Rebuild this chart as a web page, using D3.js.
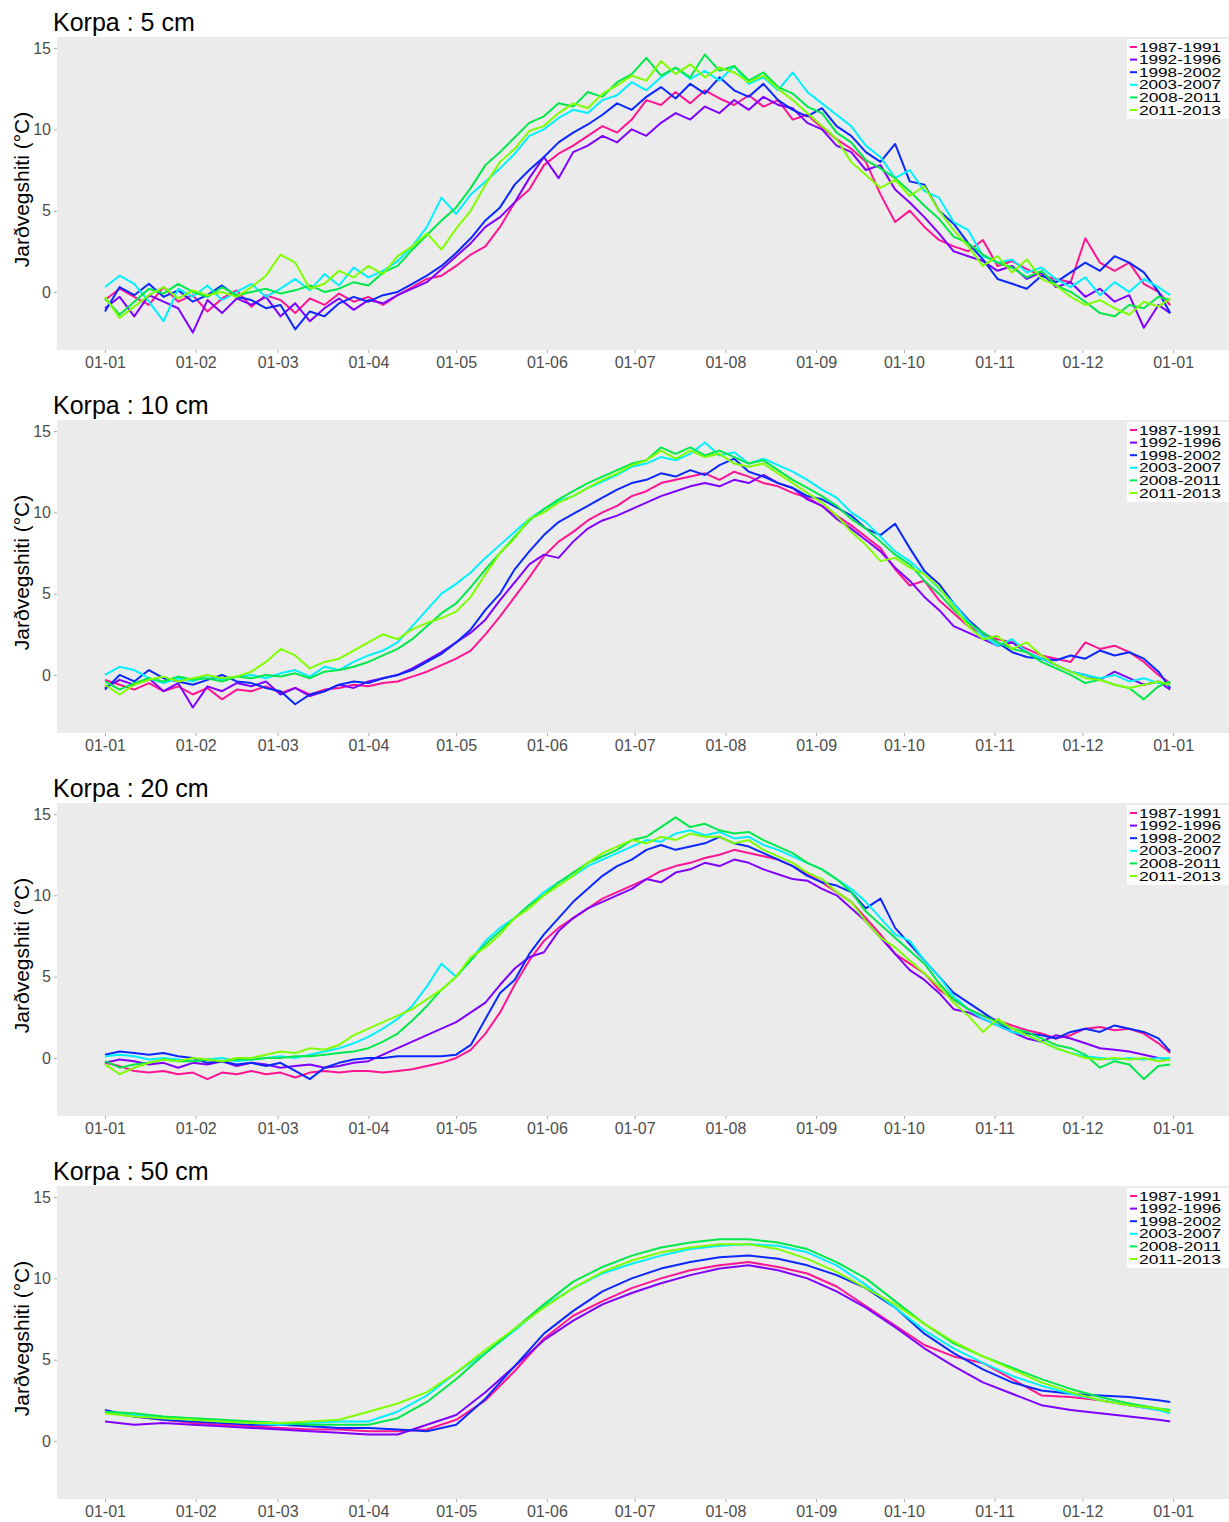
<!DOCTYPE html>
<html>
<head>
<meta charset="utf-8">
<script src="https://cdn.jsdelivr.net/npm/d3@7"></script>
<style>
  body { margin: 0; background: #fff; }
  text { font-family: "Liberation Sans", Arial, sans-serif; }
</style>
</head>
<body>
<div id="chart"></div>
<script>
(function() {
    const width = 1229,
          height = 1522;

    // series names and colours
    const periods = ["1987-1991", "1992-1996", "1998-2002", "2003-2007", "2008-2011", "2011-2013"];
    const colors = ["#ff1493", "#8000ff", "#0a28ff", "#00f0ff", "#00e94a", "#7fff00"];

    // x ticks: day of year and label (dd-mm)
    const tickDays = [0, 31, 59, 90, 120, 151, 181, 212, 243, 273, 304, 334, 365];
    const tickLabels = ["01-01", "01-02", "01-03", "01-04", "01-05", "01-06", "01-07",
                        "01-08", "01-09", "01-10", "01-11", "01-12", "01-01"];
    const yTicks = [0, 5, 10, 15];

    // sampling days
    const days5 = d3.range(0, 361, 5).concat([364]);
    const days10 = d3.range(0, 361, 10).concat([364]);

    // ---- 5 cm ----
    const cm5_1987 = [-0.5, 0.2, -0.3, -0.8, 0.3, -0.6, -0.2, -1.2, -0.4, 0.1,
        -0.9, -0.2, -0.5, -1.3, -0.4, -0.8, -0.1, -0.6, -0.3, -0.8,
        -0.2, 0.3, 0.8, 1.0, 1.6, 2.3, 2.8, 4.0, 5.5, 6.3,
        7.8, 8.5, 9.0, 9.6, 10.2, 9.8, 10.6, 11.8, 11.5, 12.3,
        11.6, 12.4, 11.9, 11.5, 12.1, 11.4, 11.8, 10.6, 10.9, 10.1,
        9.4, 8.8, 8.0, 6.0, 4.3, 5.0, 4.0, 3.2, 2.8, 2.5,
        3.2, 1.6, 1.9, 1.4, 1.0, 0.8, 0.6, 3.3, 1.8, 1.3,
        1.8, 0.5, 0.0, -0.8];
    const cm5_1992 = [-1.0, -0.3, -1.5, -0.2, -0.6, -1.0, -2.5, -0.5, -1.3, -0.4,
        -0.8, -0.3, -1.5, -0.7, -1.8, -1.0, -0.4, -1.1, -0.5, -0.7,
        -0.2, 0.2, 0.6, 1.4, 2.2, 3.0, 4.0, 4.6, 5.5, 7.0,
        8.3, 7.0, 8.6, 9.0, 9.6, 9.2, 10.0, 9.6, 10.4, 11.0,
        10.6, 11.4, 11.0, 11.8, 11.2, 12.0, 11.5, 11.3, 10.4, 10.0,
        9.0, 8.6, 7.5, 7.8, 6.3, 5.5, 4.6, 3.6, 2.5, 2.2,
        1.9, 1.3, 1.6, 0.8, 1.2, 0.3, 0.6, -0.3, 0.2, -0.6,
        -0.2, -2.2, -0.8, -1.3];
    const cm5_1998 = [-1.2, 0.3, -0.2, 0.5, -0.3, 0.1, -0.6, -0.2, 0.4, -0.3,
        -0.5, -1.0, -0.8, -2.3, -1.2, -1.5, -0.7, -0.3, -0.6, -0.2,
        0.0, 0.5, 1.0, 1.6, 2.4, 3.3, 4.4, 5.2, 6.6, 7.5,
        8.3, 9.2, 9.8, 10.3, 10.9, 11.6, 11.2, 12.0, 12.6, 11.9,
        12.8, 12.2, 13.2, 12.4, 12.0, 12.8, 11.8, 11.2, 10.8, 11.3,
        10.2, 9.6, 8.6, 8.0, 9.1, 6.8, 6.6, 5.0, 4.2, 3.0,
        2.0, 0.8, 0.5, 0.2, 1.0, 0.6, 1.2, 1.8, 1.3, 2.2,
        1.8, 1.2, 0.0, -1.3];
    const cm5_2003 = [0.3, 1.0, 0.5, -0.6, -1.8, 0.2, -0.3, 0.4, -0.5, 0.0,
        0.5, -0.3, 0.2, 0.8, 0.1, 1.1, 0.4, 1.5, 0.9, 1.3,
        1.9, 2.8, 4.0, 5.8, 4.8, 6.0, 6.8, 7.6, 8.5, 9.6,
        10.0, 10.7, 11.2, 11.0, 11.8, 12.1, 12.9, 12.4, 13.2, 13.8,
        13.1, 13.6, 13.0, 13.9, 12.8, 13.2, 12.4, 13.5, 12.3, 11.6,
        10.9, 10.2, 9.0, 8.3, 7.0, 7.5, 6.2, 5.8, 4.3, 3.8,
        2.2, 1.8, 2.0, 1.2, 1.5, 0.8, 0.3, 0.9, -0.2, 0.6,
        0.0, 0.8, 0.3, -0.2];
    const cm5_2008 = [-0.4, -1.4, -0.6, 0.2, -0.1, 0.5, 0.0, -0.3, 0.3, -0.2,
        0.0, 0.2, -0.1, 0.1, 0.4, 0.0, 0.2, 0.6, 0.4, 1.2,
        1.6, 2.6, 3.5, 4.4, 5.2, 6.4, 7.8, 8.6, 9.5, 10.4,
        10.8, 11.6, 11.4, 12.3, 12.0, 12.9, 13.4, 14.4, 13.3, 13.8,
        13.2, 14.6, 13.6, 13.9, 13.0, 13.5, 12.6, 12.2, 11.4, 11.0,
        9.8, 9.2, 8.1, 7.6, 7.0, 6.2, 5.3, 4.5, 3.4, 3.0,
        2.3, 1.8, 1.5, 0.9, 1.3, 0.4, 0.0, -0.6, -1.3, -1.5,
        -0.8, -1.0, -0.3, -0.5];
    const cm5_2011 = [-0.3, -1.6, -0.9, -0.2, 0.3, -0.4, 0.1, -0.2, 0.0, -0.3,
        0.3, 1.0, 2.3, 1.8, 0.2, 0.5, 1.3, 0.9, 1.6, 1.1,
        2.2, 2.8, 3.6, 2.6, 3.9, 5.0, 6.6, 8.0, 8.8, 9.9,
        10.2, 11.0, 11.6, 11.3, 12.2, 12.7, 13.3, 13.0, 14.2, 13.4,
        14.0, 13.2, 13.8, 13.5, 12.9, 13.3, 12.5, 11.8, 11.0, 10.2,
        9.4, 8.0, 7.2, 6.4, 6.9, 5.9, 6.5, 5.0, 3.8, 2.8,
        1.6, 2.2, 1.2, 2.0, 0.8, 0.4, -0.3, -0.8, -0.5, -1.0,
        -1.4, -0.6, -0.9, -0.4];

    // ---- 10 cm ----
    const cm10_1987 = [-0.3, -0.6, -0.9, -0.5, -1.0, -0.7, -1.2, -0.8, -1.5, -0.9,
        -1.0, -0.7, -1.1, -0.8, -1.2, -0.9, -0.8, -0.6, -0.7, -0.5,
        -0.4, -0.1, 0.2, 0.6, 1.0, 1.5, 2.5, 3.6, 4.8, 6.0,
        7.3, 8.2, 8.8, 9.5, 10.0, 10.4, 11.0, 11.3, 11.8, 12.0,
        12.2, 12.4, 12.0, 12.5, 12.2, 11.8, 11.6, 11.2, 10.9, 10.4,
        9.8, 9.2, 8.5, 7.8, 6.5, 5.5, 5.8, 4.6, 3.8, 3.0,
        2.5, 2.2, 2.0, 1.6, 1.2, 1.0, 0.8, 2.0, 1.6, 1.8,
        1.4, 0.8, 0.0, -0.5];
    const cm10_1992 = [-0.8, -0.3, -0.6, -0.2, -1.0, -0.5, -2.0, -0.7, -1.0, -0.5,
        -0.7, -0.4, -1.2, -0.8, -1.3, -1.0, -0.6, -0.8, -0.4, -0.2,
        0.0, 0.4, 0.9, 1.4, 2.0, 2.6, 3.4, 4.6, 5.7, 6.8,
        7.4, 7.2, 8.2, 9.0, 9.5, 9.8, 10.2, 10.6, 11.0, 11.3,
        11.6, 11.8, 11.6, 12.0, 11.8, 12.3, 11.8, 11.5, 10.8, 10.4,
        9.6, 9.0, 8.3, 7.6, 6.6, 5.8, 4.8, 4.0, 3.0, 2.6,
        2.2, 1.8, 2.0, 1.4, 1.0, 0.6, 0.2, 0.0, -0.3, 0.2,
        -0.2, -0.6, -0.4, -0.9];
    const cm10_1998 = [-0.9, 0.0, -0.4, 0.3, -0.2, -0.4, -0.6, -0.3, 0.0, -0.4,
        -0.5, -0.8, -1.0, -1.8, -1.2, -1.0, -0.6, -0.4, -0.5, -0.2,
        0.0, 0.3, 0.8, 1.3, 2.0, 2.8, 4.0, 5.0, 6.5, 7.6,
        8.6, 9.4, 9.9, 10.4, 10.9, 11.4, 11.8, 12.0, 12.4, 12.2,
        12.6, 12.3, 12.9, 13.3, 12.5, 12.2, 11.8, 11.5, 11.0, 10.8,
        10.3, 9.8, 9.0, 8.6, 9.3, 7.8, 6.4, 5.6, 4.4, 3.4,
        2.6, 2.0, 1.4, 1.1, 1.0, 0.9, 1.2, 1.0, 1.5, 1.2,
        1.4, 1.0, 0.2, -0.8];
    const cm10_2003 = [0.0, 0.5, 0.3, -0.2, -0.5, -0.2, -0.4, 0.0, -0.3, -0.1,
        0.0, -0.2, 0.1, 0.3, -0.1, 0.5, 0.3, 0.8, 1.2, 1.5,
        2.0, 3.0, 4.0, 5.0, 5.6, 6.3, 7.2, 8.0, 8.8, 9.6,
        10.2, 10.7, 11.0, 11.5, 11.9, 12.3, 12.8, 13.0, 13.4, 13.2,
        13.6, 14.3, 13.5, 13.7, 13.0, 13.3, 12.9, 12.5, 12.0, 11.4,
        10.9, 10.0, 9.4, 8.5, 7.6, 7.0, 6.2, 5.3, 4.4, 3.3,
        2.4, 1.8, 2.2, 1.4, 1.0, 0.6, 0.2, 0.0, -0.2, 0.0,
        -0.4, -0.2, -0.5, -0.6];
    const cm10_2008 = [-0.4, -0.9, -0.5, -0.2, -0.4, -0.1, -0.3, -0.2, -0.4, -0.1,
        -0.2, 0.0, -0.1, 0.1, -0.2, 0.2, 0.3, 0.5, 0.8, 1.2,
        1.6, 2.2, 3.0, 3.8, 4.4, 5.4, 6.5, 7.5, 8.5, 9.5,
        10.2, 10.8, 11.3, 11.8, 12.2, 12.6, 13.0, 13.2, 14.0, 13.6,
        14.0, 13.5, 13.8, 13.4, 13.0, 13.2, 12.6, 12.0, 11.5, 11.0,
        10.4, 9.6, 9.0, 8.2, 7.4, 6.8, 5.8, 5.0, 4.0, 3.2,
        2.6, 2.0, 1.6, 1.4, 0.8, 0.4, 0.0, -0.5, -0.3, -0.6,
        -0.8, -1.5, -0.7, -0.4];
    const cm10_2011 = [-0.6, -1.2, -0.6, -0.3, -0.1, -0.4, -0.2, 0.0, -0.2, -0.1,
        0.2, 0.8, 1.6, 1.2, 0.4, 0.8, 1.0, 1.5, 2.0, 2.5,
        2.2, 2.8, 3.2, 3.5, 3.9, 4.8, 6.2, 7.5, 8.4, 9.6,
        10.0, 10.6, 11.0, 11.5, 12.0, 12.4, 12.9, 13.2, 13.8, 13.3,
        13.8, 13.4, 13.6, 13.0, 12.8, 13.0, 12.4, 11.8, 11.2, 10.6,
        9.8, 8.8, 8.0, 7.0, 7.2, 6.6, 6.2, 5.4, 4.2, 3.0,
        2.2, 2.4, 1.6, 2.0, 1.2, 0.6, 0.2, -0.2, -0.3, -0.6,
        -0.8, -0.6, -0.4, -0.6];

    // ---- 20 cm ----
    const cm20_1987 = [-0.3, -0.5, -0.8, -0.9, -0.8, -1.0, -0.9, -1.3, -0.9, -1.0,
        -0.8, -1.0, -0.9, -1.2, -0.9, -0.8, -0.9, -0.8, -0.8, -0.9,
        -0.8, -0.7, -0.5, -0.3, 0.0, 0.5, 1.5, 2.8, 4.5, 6.0,
        7.2, 8.0, 8.6, 9.2, 9.8, 10.2, 10.6, 11.0, 11.5, 11.8,
        12.0, 12.3, 12.5, 12.8, 12.6, 12.4, 12.2, 11.8, 11.3, 10.8,
        10.2, 9.6, 8.6, 7.6, 6.4, 5.8, 5.2, 4.2, 3.6, 3.0,
        2.6, 2.3, 2.0, 1.7, 1.5, 1.2, 1.4, 1.8, 1.9, 1.7,
        1.8, 1.5, 0.9, 0.3];
    const cm20_1992 = [-0.3, -0.1, -0.2, -0.4, -0.3, -0.6, -0.3, -0.4, -0.2, -0.5,
        -0.3, -0.4, -0.6, -0.5, -0.4, -0.6, -0.5, -0.3, -0.2, 0.2,
        0.6, 1.0, 1.4, 1.8, 2.2, 2.8, 3.4, 4.5, 5.5, 6.2,
        6.5, 7.8, 8.6, 9.2, 9.6, 10.0, 10.4, 11.0, 10.8, 11.4,
        11.6, 12.0, 11.8, 12.2, 12.0, 11.6, 11.3, 11.0, 10.9, 10.4,
        10.0, 9.2, 8.4, 7.4, 6.4, 5.4, 4.8, 4.0, 3.0, 2.8,
        2.4, 2.0, 1.6, 1.2, 1.0, 1.4, 1.2, 0.9, 0.6, 0.5,
        0.4, 0.2, 0.0, -0.1];
    const cm20_1998 = [0.2, 0.4, 0.3, 0.2, 0.3, 0.1, 0.0, -0.3, -0.2, -0.4,
        -0.3, -0.5, -0.3, -0.8, -1.3, -0.6, -0.3, -0.1, 0.0, 0.0,
        0.1, 0.1, 0.1, 0.1, 0.2, 0.8, 2.4, 4.0, 4.8, 6.4,
        7.6, 8.6, 9.6, 10.4, 11.2, 11.8, 12.2, 12.8, 13.1, 12.8,
        13.0, 13.2, 13.6, 13.2, 13.0, 12.6, 12.2, 11.8, 11.2, 10.8,
        10.6, 10.2, 9.2, 9.8, 8.0, 7.0, 6.0, 5.0, 4.0, 3.4,
        2.8, 2.2, 1.6, 1.5, 1.4, 1.2, 1.6, 1.8, 1.6, 2.0,
        1.8, 1.6, 1.2, 0.4];
    const cm20_2003 = [0.1, 0.2, 0.1, -0.1, 0.0, -0.1, -0.2, -0.1, 0.0, -0.2,
        -0.1, 0.0, 0.1, 0.0, 0.2, 0.4, 0.6, 0.9, 1.3, 1.8,
        2.4, 3.2, 4.4, 5.8, 5.0, 6.0, 7.2, 8.0, 8.6, 9.4,
        10.2, 10.8, 11.2, 11.8, 12.2, 12.6, 13.0, 13.4, 13.3, 13.8,
        14.0, 13.7, 13.9, 13.5, 13.6, 13.1, 12.8, 12.4, 12.0, 11.6,
        11.0, 10.4, 9.6, 8.6, 7.6, 7.2, 6.0, 5.0, 3.8, 3.0,
        2.4, 2.0, 1.6, 1.4, 1.0, 0.6, 0.3, 0.1, 0.0, -0.1,
        0.0, -0.1, 0.0, 0.0];
    const cm20_2008 = [-0.2, -0.6, -0.4, -0.3, -0.1, -0.2, -0.2, -0.1, -0.2, -0.1,
        -0.1, 0.0, 0.0, 0.1, 0.1, 0.2, 0.3, 0.4, 0.6, 1.0,
        1.5, 2.3, 3.2, 4.2, 5.0, 6.0, 7.0, 7.8, 8.6, 9.4,
        10.0, 10.8, 11.4, 12.0, 12.4, 12.8, 13.4, 13.6, 14.2, 14.8,
        14.2, 14.4, 14.0, 13.8, 13.9, 13.4, 13.0, 12.6, 12.0, 11.6,
        11.0, 10.2, 9.0, 8.2, 7.4, 6.6, 5.8, 4.6, 3.6, 3.0,
        2.6, 2.2, 1.8, 1.6, 1.2, 0.8, 0.6, 0.2, -0.6, -0.2,
        -0.4, -1.3, -0.5, -0.4];
    const cm20_2011 = [-0.4, -1.0, -0.6, -0.3, -0.1, -0.2, 0.0, -0.1, -0.2, 0.0,
        0.0, 0.2, 0.4, 0.3, 0.6, 0.5, 0.8, 1.4, 1.8, 2.2,
        2.6, 3.0, 3.6, 4.2, 5.0, 6.2, 6.8, 7.6, 8.6, 9.2,
        10.0, 10.6, 11.2, 12.0, 12.6, 13.0, 13.4, 13.2, 13.6, 13.4,
        13.8, 13.6, 13.6, 13.2, 13.4, 12.8, 12.4, 12.0, 11.4, 11.0,
        10.2, 9.6, 8.4, 7.4, 6.8, 6.0, 5.2, 4.4, 3.4, 2.6,
        1.6, 2.4, 1.8, 1.4, 1.0, 0.6, 0.3, 0.0, -0.1, 0.0,
        -0.1, 0.0, -0.2, -0.1];

    // ---- 50 cm (every 10 days) ----
    const cm50_1987 = [1.8, 1.5, 1.3, 1.1, 1.0, 0.9, 0.8, 0.7, 0.7, 0.6,
        0.6, 0.7, 1.3, 2.5, 4.3, 6.3, 7.7, 8.6, 9.4, 10.0,
        10.5, 10.8, 11.0, 10.7, 10.3, 9.5, 8.3, 7.1, 5.9, 5.2,
        4.8, 3.8, 2.8, 2.7, 2.5, 2.2, 1.9, 1.8];
    const cm50_1992 = [1.2, 1.0, 1.1, 1.0, 0.9, 0.8, 0.7, 0.6, 0.5, 0.4,
        0.4, 1.0, 1.6, 3.0, 4.6, 6.2, 7.4, 8.4, 9.1, 9.7,
        10.2, 10.6, 10.8, 10.5, 10.0, 9.2, 8.2, 7.0, 5.7, 4.6,
        3.6, 2.9, 2.2, 1.9, 1.7, 1.5, 1.3, 1.2];
    const cm50_1998 = [1.9, 1.5, 1.3, 1.2, 1.1, 1.0, 1.0, 0.9, 0.8, 0.8,
        0.7, 0.6, 1.0, 2.6, 4.6, 6.6, 8.0, 9.2, 10.0, 10.6,
        11.0, 11.3, 11.4, 11.2, 10.8, 10.2, 9.4, 8.2, 6.6, 5.4,
        4.4, 3.6, 3.1, 2.9, 2.8, 2.7, 2.5, 2.4];
    const cm50_2003 = [1.8, 1.6, 1.4, 1.3, 1.2, 1.1, 1.0, 1.1, 1.2, 1.2,
        1.8, 2.8, 4.2, 5.4, 6.8, 8.3, 9.4, 10.3, 10.9, 11.4,
        11.8, 12.0, 12.1, 12.0, 11.6, 10.8, 9.6, 8.2, 6.8, 5.7,
        4.8, 4.0, 3.4, 2.9, 2.5, 2.2, 1.9, 1.7];
    const cm50_2008 = [1.8, 1.7, 1.5, 1.4, 1.3, 1.2, 1.1, 1.0, 1.0, 1.0,
        1.4, 2.4, 3.8, 5.4, 6.9, 8.4, 9.8, 10.7, 11.4, 11.9,
        12.2, 12.4, 12.4, 12.2, 11.8, 11.0, 10.0, 8.6, 7.2, 6.0,
        5.2, 4.5, 3.8, 3.2, 2.7, 2.3, 2.0, 1.9];
    const cm50_2011 = [1.7, 1.5, 1.4, 1.3, 1.2, 1.1, 1.1, 1.2, 1.3, 1.8,
        2.3, 3.0, 4.2, 5.6, 6.9, 8.2, 9.4, 10.4, 11.1, 11.6,
        11.9, 12.1, 12.1, 11.8, 11.2, 10.4, 9.4, 8.4, 7.2, 6.1,
        5.2, 4.4, 3.6, 3.0, 2.5, 2.2, 2.0, 1.8];

    const panels = [
        { title: "Korpa : 5 cm", days: days5, series: [cm5_1987, cm5_1992, cm5_1998, cm5_2003, cm5_2008, cm5_2011] },
        { title: "Korpa : 10 cm", days: days5, series: [cm10_1987, cm10_1992, cm10_1998, cm10_2003, cm10_2008, cm10_2011] },
        { title: "Korpa : 20 cm", days: days5, series: [cm20_1987, cm20_1992, cm20_1998, cm20_2003, cm20_2008, cm20_2011] },
        { title: "Korpa : 50 cm", days: days10, series: [cm50_1987, cm50_1992, cm50_1998, cm50_2003, cm50_2008, cm50_2011] }
    ];

    const svg = d3.select("#chart")
        .append("svg")
        .attr("width", width)
        .attr("height", height);

    const panelStep = 383;
    const plotLeft = 57, plotRight = 1229, plotTop = 37, plotBottom = 350;

    const x = d3.scaleLinear()
        .domain([-16.4, 384.1])
        .range([plotLeft, plotRight]);

    const y = d3.scaleLinear()
        .domain([-3.57, 15.68])
        .range([plotBottom, plotTop]);

    const line = d3.line()
        .x(d => x(d[0]))
        .y(d => y(d[1]));

    panels.forEach((p, pi) => {
        const g = svg.append("g")
            .attr("transform", `translate(0,${pi * panelStep})`);

        g.append("rect")
            .attr("x", plotLeft)
            .attr("y", plotTop)
            .attr("width", plotRight - plotLeft)
            .attr("height", plotBottom - plotTop)
            .attr("fill", "#ebebeb");

        g.append("text")
            .attr("x", 53)
            .attr("y", 31)
            .attr("font-size", 25)
            .attr("fill", "#000")
            .text(p.title);

        // y axis
        const yAxis = d3.axisLeft(y)
            .tickValues(yTicks)
            .tickSize(3)
            .tickPadding(3);
        const ya = g.append("g")
            .attr("transform", `translate(${plotLeft},0)`)
            .call(yAxis);
        ya.select(".domain").remove();
        ya.selectAll(".tick line").attr("stroke", "#aaa");
        ya.selectAll(".tick text")
            .attr("font-size", 16)
            .attr("fill", "#4d4d4d");

        // x axis
        const xAxis = d3.axisBottom(x)
            .tickValues(tickDays)
            .tickFormat((d, i) => tickLabels[i])
            .tickSize(3)
            .tickPadding(4);
        const xa = g.append("g")
            .attr("transform", `translate(0,${plotBottom})`)
            .call(xAxis);
        xa.select(".domain").remove();
        xa.selectAll(".tick line").attr("stroke", "#aaa");
        xa.selectAll(".tick text")
            .attr("font-size", 16)
            .attr("fill", "#4d4d4d");

        g.append("text")
            .attr("transform", `translate(29,${(plotTop + plotBottom) / 2 - 4}) rotate(-90)`)
            .attr("text-anchor", "middle")
            .attr("font-size", 21)
            .attr("fill", "#000")
            .text("Jarðvegshiti (°C)");

        // lines
        p.series.forEach((vals, si) => {
            g.append("path")
                .datum(vals.map((v, i) => [p.days[i], v]))
                .attr("fill", "none")
                .attr("stroke", colors[si])
                .attr("stroke-width", 2)
                .attr("stroke-linejoin", "round")
                .attr("d", line);
        });

        // legend
        const lg = g.append("g")
            .attr("transform", "translate(1127,39)");
        lg.append("rect")
            .attr("width", 102)
            .attr("height", 80)
            .attr("fill", "#fff")
            .attr("opacity", 0.85);
        periods.forEach((name, i) => {
            const yy = 8 + i * 12.6;
            lg.append("line")
                .attr("x1", 3).attr("x2", 10)
                .attr("y1", yy).attr("y2", yy)
                .attr("stroke", colors[i])
                .attr("stroke-width", 2);
            lg.append("text")
                .attr("x", 12)
                .attr("y", yy + 4.5)
                .attr("font-size", 12.5)
                .attr("textLength", 82)
                .attr("lengthAdjust", "spacingAndGlyphs")
                .attr("fill", "#000")
                .text(name);
        });
    });
})();
</script>
</body>
</html>
